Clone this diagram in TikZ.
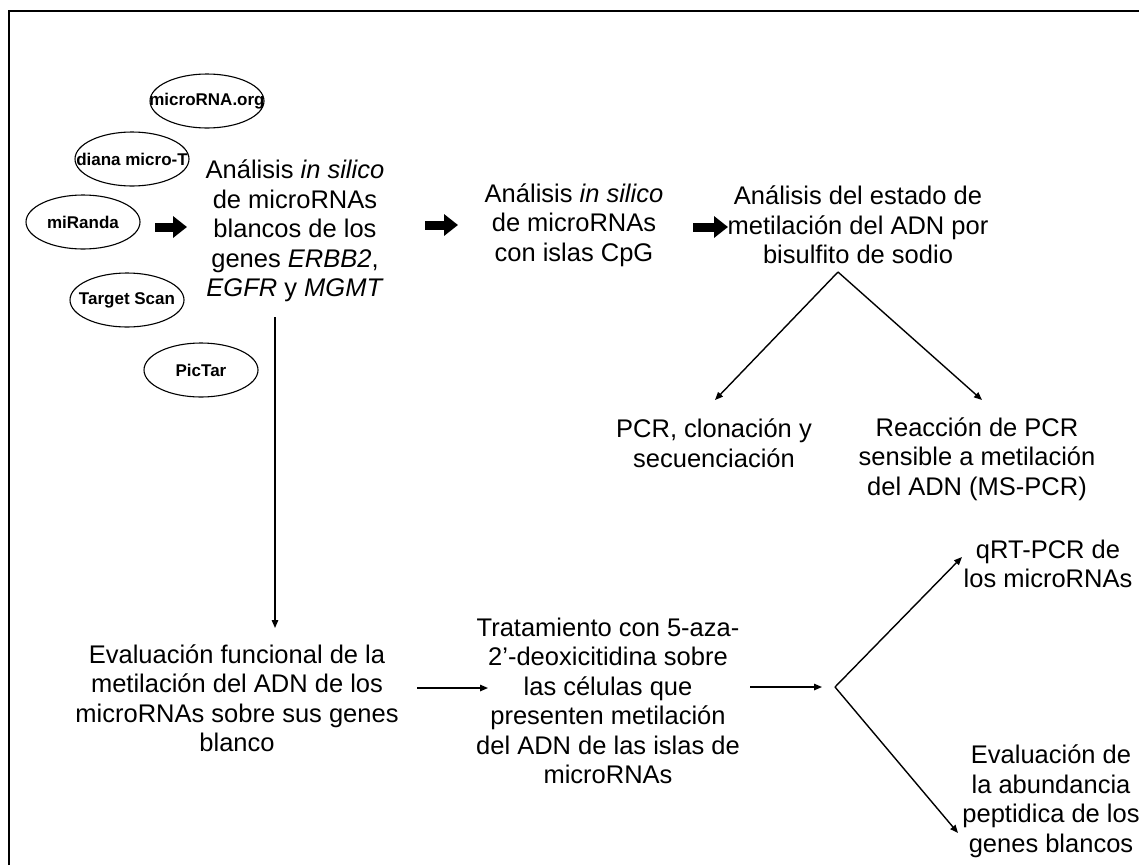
\documentclass[tikz,border=0pt]{standalone}
\usepackage{fontspec}
\setmainfont{Liberation Sans}
\usetikzlibrary{arrows.meta,shapes.geometric}
\begin{document}
\begin{tikzpicture}[x=1pt,y=-1pt,
  txt/.style={align=center, inner sep=0pt, font=\fontsize{25.5}{29.5}\selectfont},
  tool/.style={draw, ellipse, line width=1.1pt, minimum width=114pt, minimum height=54pt, inner sep=0pt},
  toollabel/.style={font=\bfseries\fontsize{17}{20}\selectfont, inner sep=0pt},
  arr/.style={line width=1.4pt, -{Triangle[length=8pt,width=6.5pt]}},
  blk/.style={line width=9pt, -{Triangle[length=14pt,width=21pt]}},
]
\useasboundingbox (0,0) rectangle (1139,865);
\fill[white] (0,0) rectangle (1139,865);
\draw[line width=2.5pt] (9,865) -- (9,11) -- (1139,11);

% tools (ellipses)
\node[tool] (mo) at (207,101) {};
\node[toollabel] at (mo.center) {microRNA.org};
\node[tool] (dm) at (132,159) {};
\node[toollabel] at (dm.center) {diana micro-T};
\node[tool] (mr) at (83,222) {};
\node[toollabel] at (mr.center) {miRanda};
\node[tool] (ts) at (127,300) {};
\node[toollabel] at (ts.center) {Target Scan};
\node[tool] (pt) at (201,370) {};
\node[toollabel] at (pt.center) {PicTar};

% texts
\node[txt] (t1) at (295,231) {Análisis \textit{in silico}\\de microRNAs\\blancos de los\\genes \textit{ERBB2},\\\textit{EGFR} y \textit{MGMT}};
\node[txt] (t2) at (574,225) {Análisis \textit{in silico}\\de microRNAs\\con islas CpG};
\node[txt] (t3) at (858,225) {Análisis del estado de\\metilación del ADN por\\bisulfito de sodio};
\node[txt] (t4) at (714,443) {PCR, clonación y\\secuenciación};
\node[txt] (t5) at (977,459) {Reacción de PCR\\sensible a metilación\\del ADN (MS-PCR)};
\node[txt] (t6) at (237,698) {Evaluación funcional de la\\metilación del ADN de los\\microRNAs sobre sus genes\\blanco};
\node[txt] (t7) at (608,701) {Tratamiento con 5-aza-\\2’-deoxicitidina sobre\\las células que\\presenten metilación\\del ADN de las islas de\\microRNAs};
\node[txt] (t8) at (1048,564) {qRT-PCR de\\los microRNAs};
\node[txt] (t9) at (1051,801) {Evaluación de\\la abundancia\\peptidica de los\\genes blancos};

% block arrows
\coordinate (b1s) at (155,227); \coordinate (b1e) at (187,227);
\coordinate (b2s) at (425,225); \coordinate (b2e) at (458,225);
\coordinate (b3s) at (693,227); \coordinate (b3e) at (728,227);
\draw[blk] (b1s) -- (b1e);
\draw[blk] (b2s) -- (b2e);
\draw[blk] (b3s) -- (b3e);

% thin arrows
\coordinate (vs) at (275,317); \coordinate (ve) at (275,628);
\draw[arr] (vs) -- (ve);
\coordinate (apex) at (838,272);
\coordinate (l4) at (715,400); \coordinate (l5) at (982,400);
\draw[arr] (apex) -- (l4);
\draw[arr] (apex) -- (l5);
\coordinate (h1s) at (417,688); \coordinate (h1e) at (488,688);
\draw[arr] (h1s) -- (h1e);
\coordinate (h2s) at (750,687); \coordinate (h2e) at (822,687);
\draw[arr] (h2s) -- (h2e);
\coordinate (fork) at (835,687);
\coordinate (f8) at (962,557); \coordinate (f9) at (958,833);
\draw[arr] (fork) -- (f8);
\draw[arr] (fork) -- (f9);
\end{tikzpicture}
\end{document}
